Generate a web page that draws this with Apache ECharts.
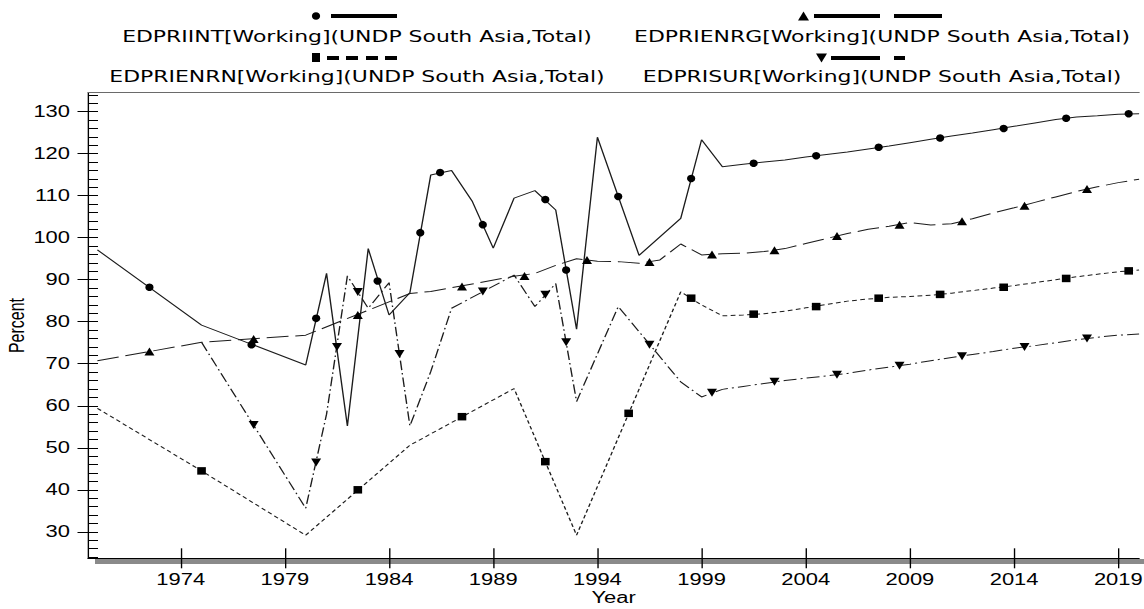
<!DOCTYPE html>
<html><head><meta charset="utf-8">
<script src="https://cdn.jsdelivr.net/npm/echarts@6/dist/echarts.min.js"></script>
<style>
html,body{margin:0;padding:0;background:#fff;overflow:hidden;}
#wrap{width:1144px;height:609px;overflow:hidden;position:relative;}
#chart{width:835px;height:609px;transform:scaleX(1.3700599);transform-origin:0 0;}
</style></head><body><div id="wrap"><div id="chart"></div></div>
<script>
// ---- data ----
const xTicks = [1974,1979,1984,1989,1994,1999,2004,2009,2014,2019];
const yTicks = [30,40,50,60,70,80,90,100,110,120,130];
const yMinorTicks = [24,26,28,30,32,34,36,38,40,42,44,46,48,50,52,54,56,58,60,62,64,66,68,70,72,74,76,78,80,82,84,86,88,90,92,94,96,98,100,102,104,106,108,110,112,114,116,118,120,122,124,126,128,130,132,134];

const seriesNames = ['EDPRIINT[Working](UNDP South Asia,Total)','EDPRIENRG[Working](UNDP South Asia,Total)','EDPRIENRN[Working](UNDP South Asia,Total)','EDPRISUR[Working](UNDP South Asia,Total)'];

const intYears = [1970,1975,1980,1981,1982,1983,1984,1985,1986,1987,1988,1989,1990,1991,1992,1993,1994,1995,1996,1997,1998,1999,2000,2001,2002,2003,2004,2005,2006,2007,2008,2009,2010,2011,2012,2013,2014,2015,2016,2017,2018,2019,2020];
const intValues = [97.1,79.2,69.7,91.5,55.2,97.4,81.6,86.9,114.9,116.0,108.6,97.5,109.4,111.2,106.6,78.2,123.9,109.8,95.8,100.2,104.6,123.3,116.9,117.5,118.0,118.5,119.2,119.8,120.4,121.1,121.8,122.6,123.4,124.2,124.9,125.7,126.5,127.3,128.1,128.7,129.0,129.4,129.5];

const enrgYears = [1970,1975,1980,1985,1986,1990,1991,1992,1993,1994,1995,1996,1997,1998,1999,2000,2001,2002,2003,2004,2005,2006,2007,2008,2009,2010,2011,2012,2013,2014,2015,2016,2017,2018,2019,2020];
const enrgValues = [70.7,75.1,76.8,86.7,87.2,90.8,91.5,93.4,95.0,94.4,94.3,93.9,94.7,98.5,95.9,96.2,96.3,96.7,97.4,98.6,99.8,101.0,102.0,102.7,103.6,103.0,103.3,104.5,105.9,107.1,108.4,109.7,111.0,112.1,113.1,113.9];

const enrnYears = [1970,1975,1980,1985,1990,1993,1998,1999,2000,2001,2002,2003,2004,2005,2006,2007,2008,2009,2010,2011,2012,2013,2014,2015,2016,2017,2018,2019,2020];
const enrnValues = [59.4,44.5,29.2,50.6,64.1,29.2,87.1,84.0,81.4,81.6,81.9,82.5,83.3,84.1,84.9,85.4,85.8,86.0,86.3,86.8,87.4,88.0,88.6,89.3,90.0,90.7,91.3,91.9,92.3];

const surYears = [1975,1980,1981,1982,1983,1984,1985,1986,1987,1990,1991,1992,1993,1995,1998,1999,2000,2001,2002,2003,2004,2005,2006,2007,2008,2009,2010,2011,2012,2013,2014,2015,2016,2017,2018,2019,2020];
const surValues = [75.1,35.6,58.0,90.9,83.2,89.3,55.2,68.1,83.2,91.1,83.6,89.1,61.0,83.6,65.7,62.1,63.9,64.6,65.3,66.0,66.6,67.1,67.7,68.5,69.2,69.9,70.7,71.5,72.2,72.9,73.7,74.3,75.0,75.7,76.3,76.8,77.1];

// marker positions along each line, as seen in the picture
const intMarkYears = [1972.5,1977.4,1980.5,1983.45,1985.5,1986.45,1988.5,1991.5,1992.5,1995,1998.5,2001.5,2004.5,2007.5,2010.45,2013.5,2016.5,2019.5];
const intMarkValues = [88.2,74.5,80.8,89.7,101.2,115.5,103.1,109.1,92.3,109.8,114.1,117.7,119.5,121.5,123.7,126.0,128.4,129.5];
const enrgMarkYears = [1972.5,1977.5,1982.5,1987.5,1990.5,1993.5,1996.5,1999.5,2002.5,2005.5,2008.5,2011.5,2014.5,2017.5];
const enrgMarkValues = [72.9,75.9,81.6,88.4,90.9,94.7,94.2,96.0,97.0,100.4,103.1,103.9,107.6,111.6];
const enrnMarkYears = [1975,1982.5,1987.5,1991.5,1995.5,1998.5,2001.5,2004.5,2007.5,2010.45,2013.5,2016.5,2019.5];
const enrnMarkValues = [44.5,40.0,57.4,46.7,58.2,85.6,81.8,83.6,85.6,86.5,88.2,90.3,92.1];
const surMarkYears = [1977.5,1980.5,1981.5,1982.5,1984.5,1988.5,1991.5,1992.5,1996.5,1999.5,2002.5,2005.5,2008.5,2011.5,2014.5,2017.5];
const surMarkValues = [55.4,46.5,74.0,87.1,72.3,87.2,86.4,75.1,74.5,63.1,65.7,67.4,69.5,71.8,74.0,76.0];

// ---- chart ----
const S = 1144/835;               // horizontal stretch of the whole picture
const X = v => v / S;             // reference pixel -> drawing pixel
const pairs = (xs, ys) => xs.map((x, i) => [x, ys[i]]);

const LINE = '#1c1c1c';
const tickFont = 'Liberation Sans, Arial, sans-serif';
const legendFont = 'DejaVu Sans, sans-serif';
const xMin = 1969.55, xMax = 2020, yMin = 23.7, yMax = 134.5;

const chart = echarts.init(document.getElementById('chart'), null, {renderer: 'svg'});

const lineSeries = (name, data, type) => ({
  type: 'line', name, data, symbol: 'none', showSymbol: false, silent: true,
  connectNulls: true, z: 3,
  lineStyle: {color: LINE, width: 1, type}
});
const markSeries = (data, symbol, size, rotate) => ({
  type: 'scatter', data, symbol, symbolSize: size, symbolRotate: rotate || 0,
  silent: true, z: 5, itemStyle: {color: '#000', opacity: 1}
});

const legendGraphics = [
  {type:'ellipse', shape:{cx:X(316), cy:16, rx:3.0, ry:3.8}, style:{fill:'#000'}},
  {type:'rect', shape:{x:X(331), y:14, width:X(397)-X(331), height:4}, style:{fill:'#000'}},
  {type:'text', x:X(357), y:37, style:{text:seriesNames[0], font:'16px '+legendFont, fill:'#000', align:'center', verticalAlign:'middle'}},
  {type:'polygon', shape:{points:[[X(803.5),11.5],[X(809),20.5],[X(798),20.5]]}, style:{fill:'#000'}},
  {type:'rect', shape:{x:X(814), y:14, width:X(880)-X(814), height:4}, style:{fill:'#000'}},
  {type:'rect', shape:{x:X(894), y:14, width:X(942)-X(894), height:4}, style:{fill:'#000'}},
  {type:'text', x:X(882), y:37, style:{text:seriesNames[1], font:'16px '+legendFont, fill:'#000', align:'center', verticalAlign:'middle'}},
  {type:'rect', shape:{x:X(312), y:53, width:X(320)-X(312), height:9}, style:{fill:'#000'}},
  {type:'rect', shape:{x:X(327), y:56, width:X(339)-X(327), height:4}, style:{fill:'#000'}},
  {type:'rect', shape:{x:X(346), y:56, width:X(358)-X(346), height:4}, style:{fill:'#000'}},
  {type:'rect', shape:{x:X(366), y:56, width:X(378)-X(366), height:4}, style:{fill:'#000'}},
  {type:'rect', shape:{x:X(385), y:56, width:X(397)-X(385), height:4}, style:{fill:'#000'}},
  {type:'text', x:X(357), y:77, style:{text:seriesNames[2], font:'16px '+legendFont, fill:'#000', align:'center', verticalAlign:'middle'}},
  {type:'polygon', shape:{points:[[X(816),53.5],[X(827),53.5],[X(821.5),62.5]]}, style:{fill:'#000'}},
  {type:'rect', shape:{x:X(831), y:56, width:X(880)-X(831), height:4}, style:{fill:'#000'}},
  {type:'rect', shape:{x:X(894), y:56, width:X(905)-X(894), height:4}, style:{fill:'#000'}},
  {type:'text', x:X(882), y:77, style:{text:seriesNames[3], font:'16px '+legendFont, fill:'#000', align:'center', verticalAlign:'middle'}},
  {type:'rect', z:-10, shape:{x:X(95), y:559, width:X(1144)-X(95), height:5}, style:{fill:'#8a8a8a'}}
];

const option = {
  animation: false,
  backgroundColor: '#ffffff',
  grid: {left: X(88), top: 92.7, width: X(1139.1) - X(88), height: 465.6, containLabel: false, outerBoundsMode: 'none'},
  xAxis: [
    {type:'value', min:xMin, max:xMax, position:'bottom',
     axisLine:{show:true, onZero:false, lineStyle:{color:'#000', width:1}},
     axisTick:{show:true, customValues:xTicks, length:10, lineStyle:{color:'#000', width:1}},
     axisLabel:{show:true, customValues:xTicks, formatter: v => String(v), color:'#000', fontSize:16, fontFamily:tickFont, margin:13},
     splitLine:{show:false},
     name:'Year', nameLocation:'middle', nameGap:31, nameMoveOverlap:false,
     nameTextStyle:{color:'#000', fontSize:16, fontFamily:tickFont}},
    {type:'value', min:xMin, max:xMax, position:'bottom',
     axisLine:{show:false, onZero:false},
     axisTick:{show:true, inside:true, customValues:xTicks, length:10, lineStyle:{color:'#000', width:1}},
     axisLabel:{show:false}, splitLine:{show:false}},
    {type:'value', min:xMin, max:xMax, position:'top',
     axisLine:{show:true, onZero:false, lineStyle:{color:'#6a6a6a', width:1}},
     axisTick:{show:false}, axisLabel:{show:false}, splitLine:{show:false}}
  ],
  yAxis: [
    {type:'value', min:yMin, max:yMax, position:'left',
     axisLine:{show:true, onZero:false, lineStyle:{color:'#000', width:1}},
     axisTick:{show:true, customValues:yTicks, length:X(10.5), lineStyle:{color:'#000', width:1}},
     axisLabel:{show:true, customValues:yTicks, color:'#000', fontSize:16, fontFamily:tickFont, margin:X(18)},
     splitLine:{show:false},
     name:'Percent', nameLocation:'middle', nameRotate:90, nameGap:44, nameMoveOverlap:false,
     nameTextStyle:{color:'#000', fontSize:16, fontFamily:tickFont}},
    {type:'value', min:yMin, max:yMax, position:'left',
     axisLine:{show:false, onZero:false},
     axisTick:{show:true, inside:true, customValues:yMinorTicks, length:X(10), lineStyle:{color:'#000', width:1}},
     axisLabel:{show:false}, splitLine:{show:false}}
  ],
  graphic: legendGraphics,
  series: [
    lineSeries(seriesNames[0], pairs(intYears, intValues), 'solid'),
    lineSeries(seriesNames[1], pairs(enrgYears, enrgValues), [16, 5]),
    lineSeries(seriesNames[2], pairs(enrnYears, enrnValues), [3.5, 2.5]),
    lineSeries(seriesNames[3], pairs(surYears, surValues), [9.5, 3, 1.5, 3]),
    markSeries(pairs(intMarkYears, intMarkValues), 'circle', [6, 7.5]),
    markSeries(pairs(enrgMarkYears, enrgMarkValues), 'triangle', [7.3, 8]),
    markSeries(pairs(enrnMarkYears, enrnMarkValues), 'rect', [6.3, 7.5]),
    markSeries(pairs(surMarkYears, surMarkValues), 'triangle', [7.3, 8], 180)
  ]
};
chart.setOption(option);
</script>
</body></html>
